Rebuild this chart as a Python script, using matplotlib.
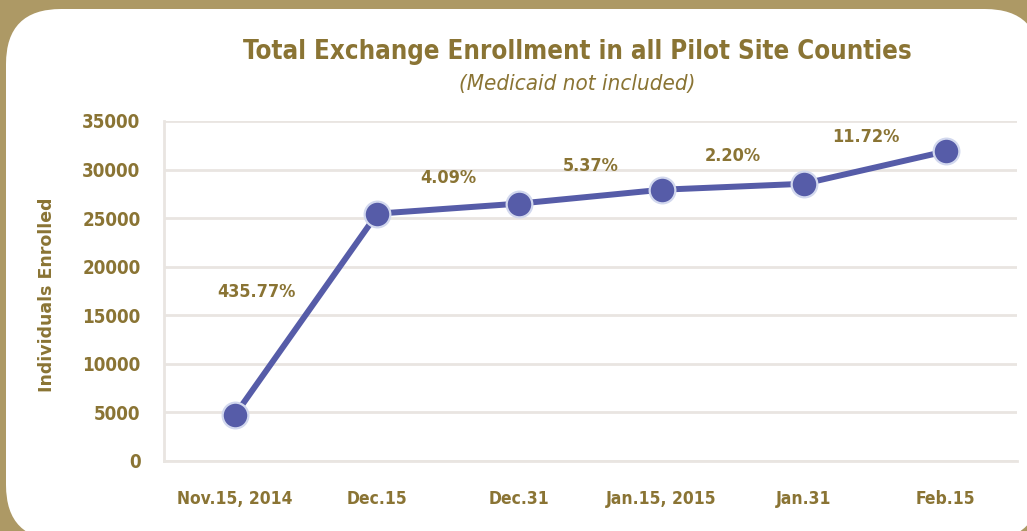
import matplotlib.pyplot as plt
from matplotlib.patches import FancyBboxPatch
from matplotlib.transforms import IdentityTransform

# chart data
dates = ["Nov.15, 2014", "Dec.15", "Dec.31", "Jan.15, 2015", "Jan.31", "Feb.15"]
enrolled = [4752, 25460, 26501, 27924, 28538, 31883]
growth = ["435.77%", "4.09%", "5.37%", "2.20%", "11.72%"]
yticks = [0, 5000, 10000, 15000, 20000, 25000, 30000, 35000]

gold = "#8a7434"
frame = "#ad9965"
line_col = "#565ca8"
grid_col = "#e9e5e1"
narrow = ["DejaVu Sans"]

fig = plt.figure(figsize=(10.27, 5.31), dpi=100, facecolor=frame)

# white rounded panel (pixel coords, origin bottom left)
panel = FancyBboxPatch((6, -9), 1034, 531, boxstyle="round,pad=0,rounding_size=55",
                       transform=IdentityTransform(), facecolor="white",
                       edgecolor="none", zorder=-5)
fig.patches.append(panel)

ax = fig.add_axes([164 / 1027, 70 / 531, 853 / 1027, 340 / 531])
ax.set_facecolor("none")

x = range(len(dates))
ax.plot(x, enrolled, color=line_col, lw=4.3, marker="o", ms=18.5,
        mfc=line_col, mec="#d2d8ee", mew=1.6, zorder=3, clip_on=False)

ax.set_xlim(-0.5, 5.5)
ax.set_ylim(0, 35000)
ax.set_yticks(yticks)
ax.set_xticks(list(x))
ax.set_xticklabels(dates)
ax.grid(axis="y", color=grid_col, lw=2)
ax.set_axisbelow(True)
for s in ["top", "right"]:
    ax.spines[s].set_visible(False)
for s in ["left", "bottom"]:
    ax.spines[s].set_color(grid_col)
    ax.spines[s].set_linewidth(2)
ax.tick_params(length=0)
ax.tick_params(axis="y", pad=17)
ax.tick_params(axis="x", pad=21)
for lab in ax.get_yticklabels():
    lab.set_fontsize(13.5)
for lab in ax.get_xticklabels():
    lab.set_fontsize(12.5)
for lab in ax.get_xticklabels() + ax.get_yticklabels():
    lab.set_family(narrow)
    lab.set_fontweight("bold")
    lab.set_fontstretch("condensed")
    lab.set_color(gold)

# growth labels between points
for i, txt in enumerate(growth):
    mx = i + 0.5
    my = (enrolled[i] + enrolled[i + 1]) / 2
    dx = -50 if i == 0 else (-9 if i == len(growth) - 1 else 0)
    dy = 22 if i == 0 else 31
    ax.annotate(txt, (mx, my), xytext=(dx, dy), textcoords="offset pixels",
                ha="center", va="center", fontsize=13, fontweight="bold",
                fontstretch="condensed", family=narrow, color=gold)

ax.set_ylabel("Individuals Enrolled", fontsize=12.5, fontweight="bold",
              family="DejaVu Sans", fontstretch="normal", color=gold, labelpad=0)
ax.yaxis.set_label_coords(-108 / 853, 0.49)

fig.text(577 / 1027, 1 - 52 / 531, "Total Exchange Enrollment in all Pilot Site Counties",
         ha="center", va="center", fontsize=18.5, fontweight="bold", fontstretch="condensed",
         family=narrow, color=gold)
fig.text(577 / 1027, 1 - 84 / 531, "(Medicaid not included)", ha="center", va="center",
         fontsize=16, style="italic", fontstretch="condensed", family=narrow, color=gold)

fig.savefig("out.png", dpi=100, facecolor=frame)
